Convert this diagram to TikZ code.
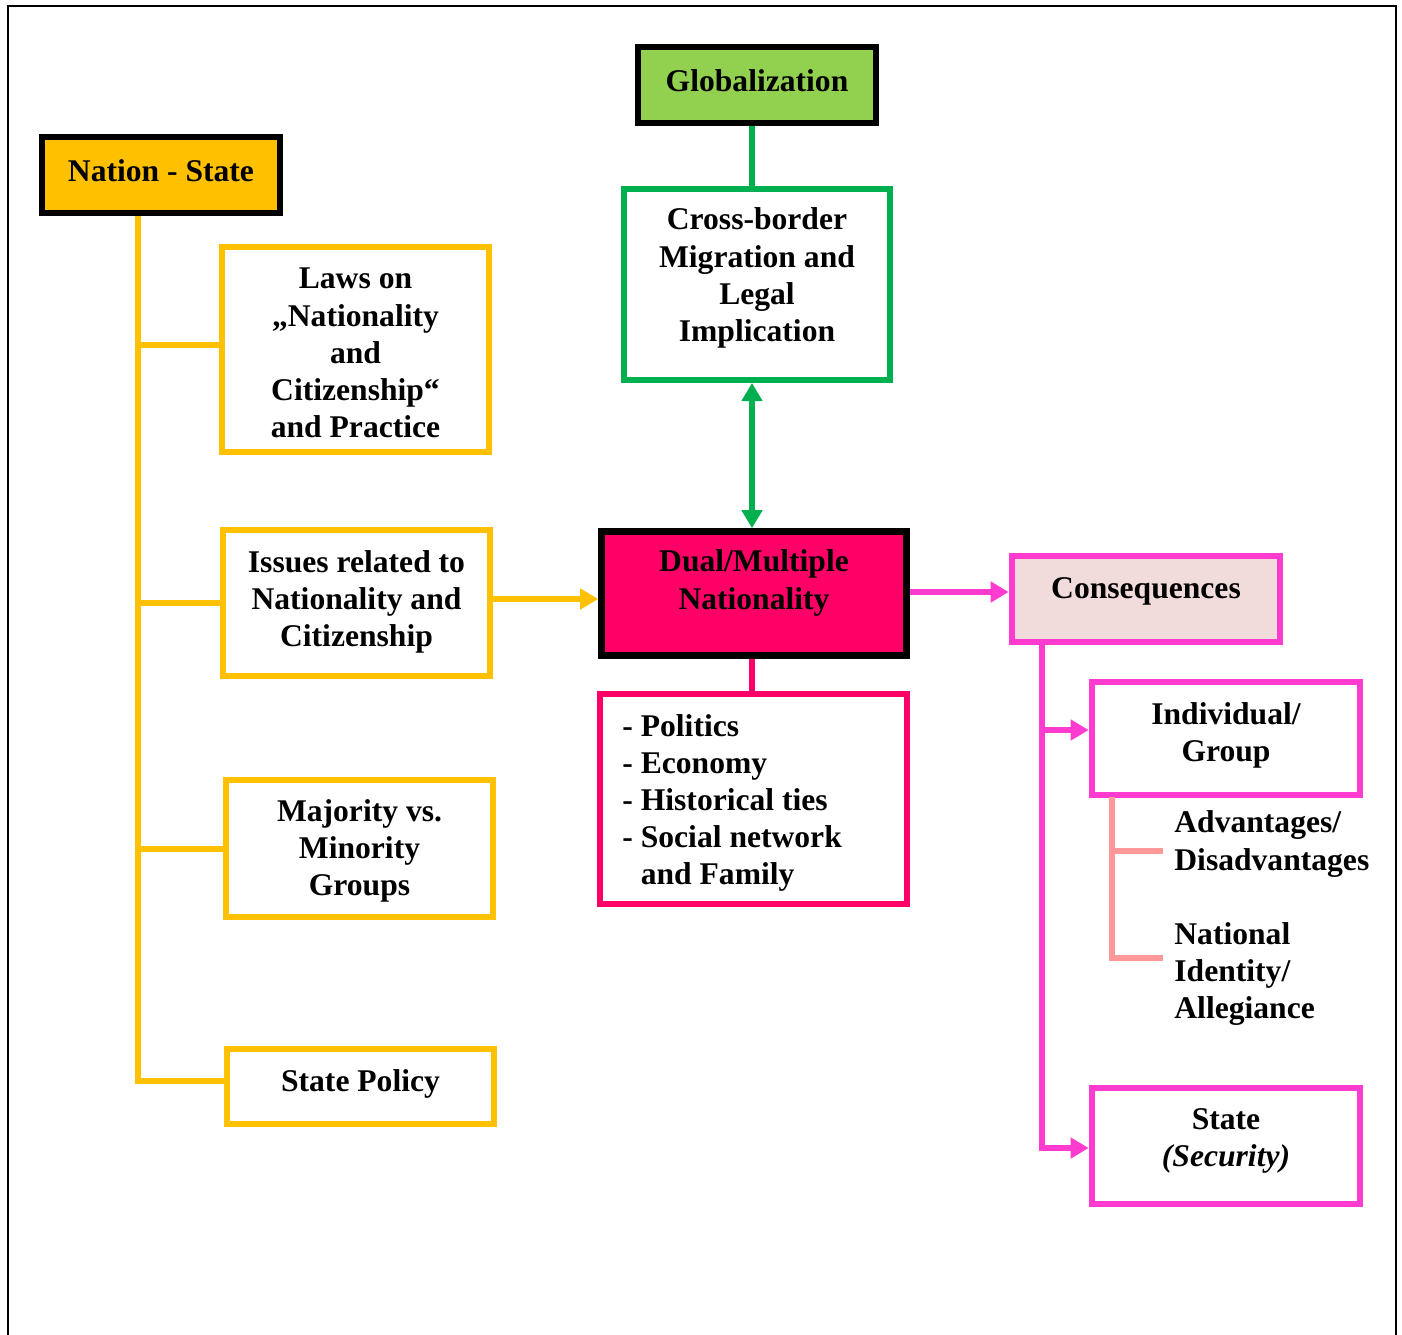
\documentclass[tikz,border=0pt]{standalone}
\usepackage{fontspec}
\setmainfont{Liberation Serif}
\usetikzlibrary{arrows.meta}
\definecolor{amber}{HTML}{FFC000}
\definecolor{leaf}{HTML}{92D050}
\definecolor{grass}{HTML}{00B050}
\definecolor{rose}{HTML}{FF0066}
\definecolor{fuchsia}{HTML}{FF3CCF}
\definecolor{blush}{HTML}{F2DCDB}
\definecolor{salmonpink}{HTML}{FF9999}
\begin{document}
\begin{tikzpicture}[x=0.5pt,y=-0.5pt,
  every node/.style={inner sep=0pt},
  txt/.style={font=\bfseries\fontsize{15.8}{18.6}\selectfont, align=center, text=black},
  box/.style={draw, rectangle, line width=3pt},
  headbox/.style={box, draw=black, line width=3.3pt},
  ybox/.style={box, draw=amber, minimum width=133.5pt},
  pbox/.style={box, draw=fuchsia, line width=3.3pt, minimum width=134pt},
  yline/.style={draw=amber, line width=3pt},
  gline/.style={draw=grass, line width=3.3pt},
  rline/.style={draw=rose, line width=3pt},
  mline/.style={draw=fuchsia, line width=3pt},
  sline/.style={draw=salmonpink, line width=3pt},
  tip/.style={-{Triangle[length=9pt,width=10pt]}},
  bothtips/.style={{Triangle[length=9pt,width=10pt]}-{Triangle[length=9pt,width=10pt]}}
]
% page and frame
\useasboundingbox (0,0) rectangle (1402,1334);
\draw[line width=1pt] (8,1340) -- (8,6) -- (1396,6) -- (1396,1340);

% left column: the nation-state and its topics
\node[headbox, fill=amber, minimum width=119pt, minimum height=38pt] (nation) at (161,175) {};
\node[txt] (nation-t) at (161,171) {Nation - State};
\node[ybox, minimum height=102.5pt] (laws) at (355.5,349.5) {};
\node[txt] (laws-t) at (355.5,353) {Laws on\\„Nationality\\and\\Citizenship“\\and Practice};
\node[ybox, minimum height=73pt] (issues) at (356.5,603) {};
\node[txt] (issues-t) at (356.5,602) {Issues related to\\Nationality and\\Citizenship};
\node[ybox, minimum height=68.5pt] (majority) at (359.5,848.5) {};
\node[txt] (majority-t) at (359.5,851) {Majority vs.\\Minority\\Groups};
\node[ybox, minimum height=37.5pt] (policy) at (360.5,1086.5) {};
\node[txt] (policy-t) at (360.5,1084) {State Policy};

\coordinate (ytop) at (138,216);
\draw[yline] (ytop) |- (policy.west |- 0,1081);
\draw[yline] (ytop |- 0,345) -- (laws.west |- 0,345);
\draw[yline] (ytop |- issues.west) -- (issues.west);
\draw[yline] (ytop |- majority.west) -- (majority.west);

% centre column
\node[headbox, fill=leaf, minimum width=119pt, minimum height=38pt] (glob) at (757,85) {};
\node[txt] (glob-t) at (757,81) {Globalization};
\node[box, draw=grass, minimum width=133pt, minimum height=95.5pt] (cross) at (757,284.5) {};
\node[txt] (cross-t) at (757,278) {Cross-border\\Migration and\\Legal\\Implication};
\node[headbox, fill=rose, minimum width=152.5pt, minimum height=62pt] (dual) at (754,593.5) {};
\node[txt] (dual-t) at (754,583) {Dual/Multiple\\Nationality};
\node[box, draw=rose, minimum width=153.5pt, minimum height=105pt] (factors) at (753.5,799) {};
\node[txt, anchor=west, align=left] (factors-t) at (622,803) {- Politics\\- Economy\\- Historical ties\\- Social network\\\phantom{- }and Family};

\draw[gline] (glob.south -| 752,0) -- (cross.north -| 752,0);
\draw[gline, bothtips] (cross.south -| 752,0) -- (dual.north -| 752,0);
\draw[rline] (dual.south -| 752,0) -- (factors.north -| 752,0);
\draw[yline, tip] (issues.east |- 0,599) -- (dual.west |- 0,599);

% right column: consequences
\node[pbox, fill=blush, minimum height=43pt] (cons) at (1146,599) {};
\node[txt] (cons-t) at (1146,591) {Consequences};
\node[pbox, minimum height=56.5pt] (indiv) at (1226,738.5) {};
\node[txt] (indiv-t) at (1226,735) {Individual/\\Group};
\node[pbox, minimum height=58pt] (state) at (1226,1146) {};
\node[txt] (state-t) at (1226,1141) {State\\\textit{(Security)}};

\draw[mline, tip] (dual.east |- 0,592) -- (cons.west |- 0,592);
\coordinate (mtop) at (1042,645);
\draw[mline, tip] (mtop) |- (state.west |- 0,1148);
\draw[mline, tip] (mtop |- 0,730) -- (indiv.west |- 0,730);

% outcomes for the individual or group
\coordinate (stop) at (1112,797);
\coordinate (adv) at (1163,851);
\coordinate (natid) at (1163,958);
\draw[sline] (stop) |- (adv);
\draw[sline] (stop) |- (natid);
\node[txt, anchor=west, align=left] (adv-t) at (1174,844) {Advantages/\\Disadvantages};
\node[txt, anchor=west, align=left] (natid-t) at (1174,974) {National\\Identity/\\Allegiance};
\end{tikzpicture}
\end{document}
